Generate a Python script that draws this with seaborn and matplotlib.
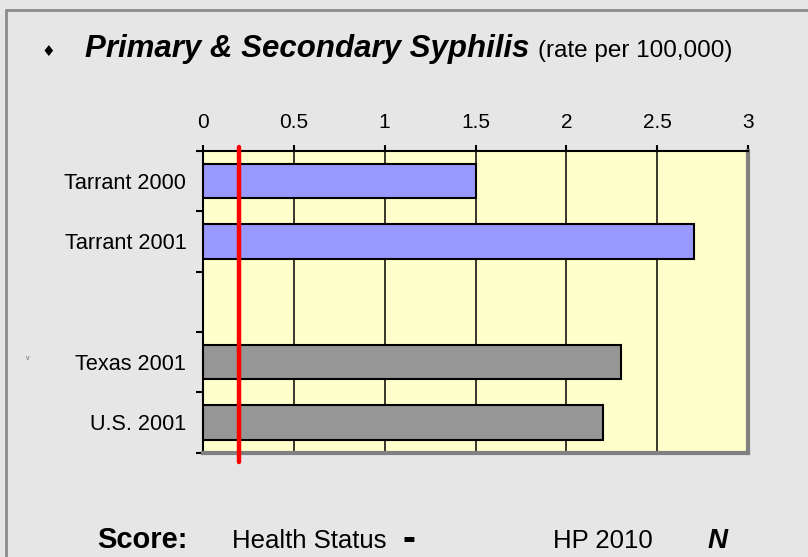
import matplotlib
matplotlib.use("Agg")
import matplotlib.pyplot as plt
import seaborn as sns
import pandas as pd
import numpy as np
from matplotlib.lines import Line2D
from matplotlib.ticker import FixedLocator

# ---- data ----
categories = ["Tarrant 2000", "Tarrant 2001", " ", "Texas 2001", "U.S. 2001"]
rates = [1.5, 2.7, np.nan, 2.3, 2.2]
bar_colors = ["#9999FF", "#9999FF", "#9999FF", "#969696", "#969696"]
target_hp2010 = 0.2
x_ticks = [0, 0.5, 1, 1.5, 2, 2.5, 3]
x_tick_labels = ["0", "0.5", "1", "1.5", "2", "2.5", "3"]

df = pd.DataFrame({"category": categories, "rate": rates})

sns.set_theme(style="white")
plt.rcParams["font.family"] = ["Liberation Sans", "DejaVu Sans"]

W, H = 808, 557
fig = plt.figure(figsize=(W / 100, H / 100), dpi=100)
fig.patch.set_facecolor("#E6E6E6")

def fx(px):
    return px / W

def fy(py):
    return 1 - py / H

# outer border (left and top)
fig.add_artist(Line2D([fx(6), fx(6)], [fy(10), fy(H + 5)], color="#8C8C8C", lw=2))
fig.add_artist(Line2D([fx(6), fx(W + 5)], [fy(10), fy(10)], color="#8C8C8C", lw=2))

ax = fig.add_axes([fx(203), fy(452.5), fx(748) - fx(203), fy(151) - fy(452.5)])
ax.set_facecolor("#FFFFCC")

sns.barplot(
    data=df, x="rate", y="category", hue="category", order=categories,
    palette=dict(zip(categories, bar_colors)), saturation=1, legend=False,
    orient="h", width=0.57, edgecolor="black", linewidth=1.5, ax=ax, zorder=3,
)

ax.set_xlim(0, 3)
ax.set_ylim(len(categories) - 0.5, -0.5)

# x axis on top
ax.xaxis.tick_top()
ax.set_xticks(x_ticks)
ax.set_xticklabels(x_tick_labels, fontsize=15, color="black")
ax.tick_params(axis="x", which="major", direction="out", length=4, width=1.5,
               color="black", pad=10, top=True, bottom=False)
ax.grid(axis="x", color="black", linewidth=1.1, zorder=1)
ax.set_axisbelow(True)

# y axis: labels at centers, tick marks at band boundaries
ax.set_yticks(range(len(categories)))
ax.set_yticklabels(categories, fontsize=15.6, color="black")
ax.yaxis.set_minor_locator(FixedLocator(np.arange(-0.5, len(categories), 1.0)))
ax.tick_params(axis="y", which="major", length=0, pad=12, left=True)
ax.tick_params(axis="y", which="minor", direction="out", length=5, width=1.5,
               color="black", left=True)

ax.set_xlabel("")
ax.set_ylabel("")

for side in ["top", "left"]:
    ax.spines[side].set_color("black")
    ax.spines[side].set_linewidth(1.5)
for side in ["right", "bottom"]:
    ax.spines[side].set_color("#808080")
    ax.spines[side].set_linewidth(3)
    ax.spines[side].set_visible(True)

# HP 2010 target line
ax.axvline(target_hp2010, ymin=-0.033, ymax=1.013, color="#FF0000", lw=3.2,
           clip_on=False, zorder=5)

# title
fig.text(fx(48), fy(51), "♦", fontsize=11, ha="center", va="center",
         family=["DejaVu Sans"], color="black")
fig.text(fx(85), fy(57), "Primary & Secondary Syphilis", fontsize=22.5,
         fontweight="bold", fontstyle="italic", ha="left", va="baseline", color="black")
fig.text(fx(538), fy(57), "(rate per 100,000)", fontsize=17.5,
         ha="left", va="baseline", color="black")

# small mark
fig.text(fx(28), fy(358), "v", fontsize=5, ha="center", va="center", color="#666666")

# footer
fig.text(fx(97), fy(548), "Score:", fontsize=21, fontweight="bold",
         ha="left", va="baseline", color="black")
fig.text(fx(232), fy(548), "Health Status", fontsize=18.5,
         ha="left", va="baseline", color="black")
fig.text(fx(409), fy(540), "-", fontsize=28, fontweight="bold",
         ha="center", va="center", color="black")
fig.text(fx(553), fy(548), "HP 2010", fontsize=18.5,
         ha="left", va="baseline", color="black")
fig.text(fx(708), fy(548), "N", fontsize=20, fontweight="bold", fontstyle="italic",
         ha="left", va="baseline", color="black")

fig.savefig("out.png", dpi=100, facecolor=fig.get_facecolor())
